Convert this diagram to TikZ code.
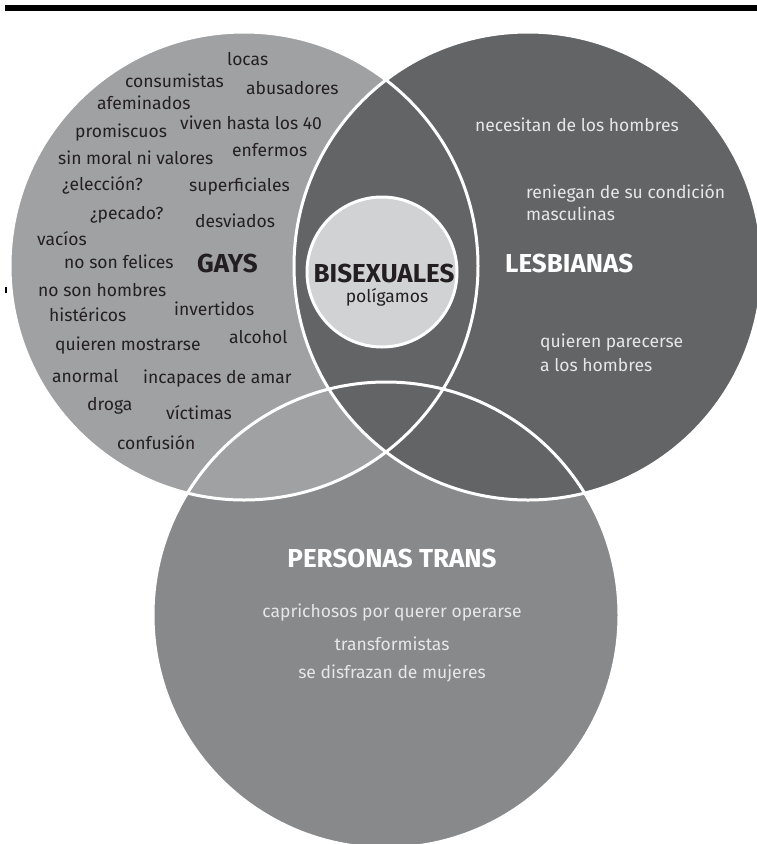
\documentclass[tikz,border=0pt]{standalone}
\usepackage{fontspec}
\setmainfont{Fira Sans}
\definecolor{gaysfill}{HTML}{A0A1A3}
\definecolor{lesfill}{HTML}{636466}
\definecolor{transfill}{HTML}{88898B}
\definecolor{bifill}{HTML}{D1D2D4}
\definecolor{darktext}{HTML}{231F20}
\definecolor{lighttext}{HTML}{E6E7E8}
\tikzset{
	word/.style={anchor=west, inner sep=0pt, font=\fontsize{17.5}{20}\selectfont, text=darktext},
	lightword/.style={word, text=lighttext},
	transword/.style={lightword, anchor=center},
	title/.style={inner sep=0pt, font=\fontsize{26}{30}\selectfont\bfseries},
	rim/.style={draw=white, line width=3pt},
}

\begin{document}
\begin{tikzpicture}[x=1pt, y=-1pt]
	\useasboundingbox (0, 0) rectangle (757, 844);
	\clip (0, 0) rectangle (757, 844);
	\coordinate (cG) at (244, 266);
	\coordinate (cL) at (528, 266);
	\coordinate (cT) at (386, 615);
	\coordinate (cB) at (382, 272);
	% circles
	\fill[transfill] (cT) circle (233);
	\fill[gaysfill] (cG) circle (234);
	\fill[lesfill] (cL) circle (234);
	\draw[rim] (cT) circle (233);
	\draw[rim] (cG) circle (234);
	\draw[rim] (cL) circle (234);
	\filldraw[fill=bifill, rim] (cB) circle (75);
	% top bar and stray mark
	\fill[black] (5, 5) rectangle (757, 11);
	\draw[black, line width=1.2pt] (6, 287) -- (6, 293);
	% gays
	\node[word] (locas) at (227, 59) {locas};
	\node[word] (consum) at (125, 81) {consumistas};
	\node[word] (abus) at (246, 88) {abusadores};
	\node[word] (afem) at (97, 103) {afeminados};
	\node[word] (viven) at (180, 123) {viven hasta los 40};
	\node[word] (prom) at (75, 133) {promiscuos};
	\node[word] (moral) at (58, 158) {sin moral ni valores};
	\node[word] (enf) at (232, 150) {enfermos};
	\node[word] (elec) at (62, 185) {¿elección?};
	\node[word] (superf) at (189, 187) {superficiales};
	\node[word] (pecado) at (90, 215) {¿pecado?};
	\node[word] (desv) at (195, 221) {desviados};
	\node[word] (vacios) at (37, 239) {vacíos};
	\node[word] (felices) at (64, 262) {no son felices};
	\node[word] (hombres) at (38, 290) {no son hombres};
	\node[word] (hist) at (49, 315) {histéricos};
	\node[word] (invert) at (174, 309) {invertidos};
	\node[word] (alcohol) at (229, 337) {alcohol};
	\node[word] (mostr) at (55, 346) {quieren mostrarse};
	\node[word] (anormal) at (52, 376) {anormal};
	\node[word] (incap) at (143, 379) {incapaces de amar};
	\node[word] (droga) at (87, 406) {droga};
	\node[word] (vict) at (166, 413) {víctimas};
	\node[word] (confus) at (117, 443) {confusión};
	\node[title, anchor=west, text=darktext] (gays) at (197, 263) {GAYS};
	% bisexuales
	\node[title, text=darktext] (bi) at (384, 273) {BISEXUALES};
	\node[word, anchor=center] (polig) at (387, 297) {polígamos};
	% lesbianas
	\node[lightword] (neces) at (475, 125) {necesitan de los hombres};
	\node[lightword] (renieg) at (526, 193) {reniegan de su condición};
	\node[lightword] (masc) at (526, 214) {masculinas};
	\node[title, anchor=west, text=white] (les) at (505, 263) {LESBIANAS};
	\node[lightword] (parec) at (540, 343) {quieren parecerse};
	\node[lightword] (alos) at (540, 365) {a los hombres};
	% personas trans
	\node[title, text=white] (trans) at (392, 558) {PERSONAS TRANS};
	\node[transword] (capr) at (392, 613) {caprichosos por querer operarse};
	\node[transword] (transf) at (392, 644) {transformistas};
	\node[transword] (disfr) at (392, 674) {se disfrazan de mujeres};
\end{tikzpicture}
\end{document}
